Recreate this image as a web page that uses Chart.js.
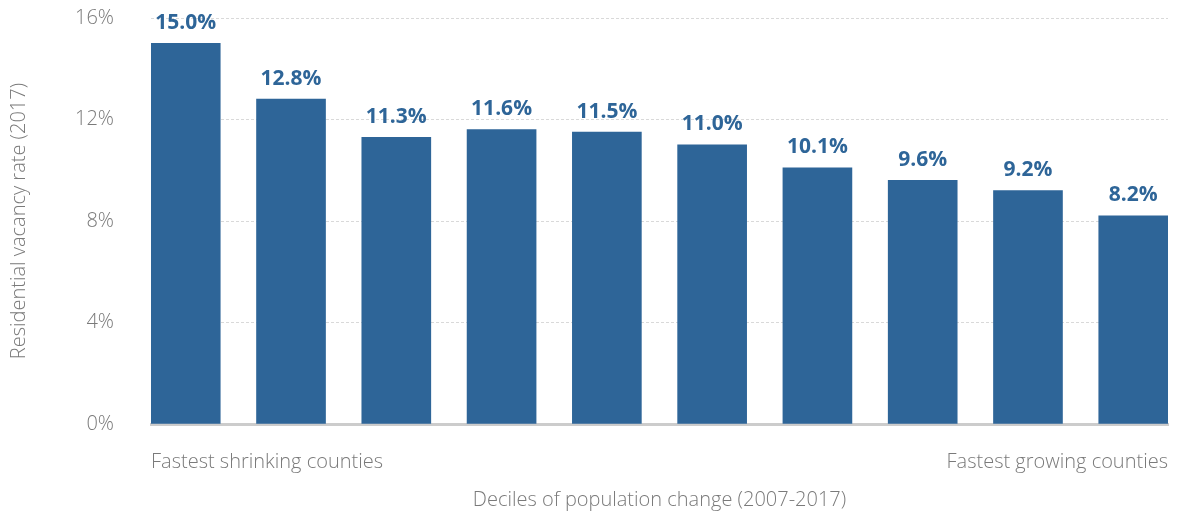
<!DOCTYPE html>
<html>
<head>
<meta charset="utf-8">
<script src="https://cdn.jsdelivr.net/npm/chart.js@4"></script>
<style>
  html, body { margin: 0; padding: 0; background: #fff; overflow: hidden; }
  #wrap { width: 1182px; height: 514px; }
</style>
</head>
<body>
<div id="wrap"><canvas id="vacancy"></canvas></div>
<script>
// deciles, shrinking -> growing
const deciles = ['1', '2', '3', '4', '5', '6', '7', '8', '9', '10'];
const vacancyRates = [15.0, 12.8, 11.3, 11.6, 11.5, 11.0, 10.1, 9.6, 9.2, 8.2];
const edgeLabels = ['Fastest shrinking counties', 'Fastest growing counties'];
const yTitle = 'Residential vacancy rate (2017)';
const xTitle = 'Deciles of population change (2007-2017)';

const barColor = '#2e6598';
const greyText = '#7a7a7a';
const fontFamily = '"Open Sans", Lato, sans-serif';

const xMin = -0.33;
const xMax = deciles.length - 1 + 0.33;

const barLabels = {
    id: 'barLabels',
    afterDatasetsDraw (chart) {
        const ctx = chart.ctx;
        const meta = chart.getDatasetMeta(0);
        ctx.save();
        ctx.font = `bold 21px ${fontFamily}`;
        ctx.fillStyle = barColor;
        ctx.textAlign = 'center';
        ctx.textBaseline = 'bottom';
        meta.data.forEach((bar, i) => {
            ctx.fillText(vacancyRates[i].toFixed(1) + '%', bar.x, bar.y - 10);
        });
        ctx.restore();
    }
};

new Chart(
    document.getElementById('vacancy'),
    {
        type: 'bar',
        data: {
            datasets: [
                {
                    data: vacancyRates.map((v, i) => ({ x: i, y: v })),
                    backgroundColor: barColor,
                    barThickness: 69
                }
            ]
        },
        plugins: [barLabels],
        options: {
            responsive: true,
            maintainAspectRatio: false,
            animation: false,
            layout: {
                padding: { top: 18, right: 14, left: 0, bottom: 0 }
            },
            plugins: {
                legend: { display: false },
                tooltip: { enabled: false }
            },
            scales: {
                x: {
                    type: 'linear',
                    offset: false,
                    min: xMin,
                    max: xMax,
                    afterBuildTicks: (scale) => {
                        scale.ticks = [{ value: xMin }, { value: xMax }];
                    },
                    afterFit: (scale) => {
                        scale.height = 90;
                        scale.paddingLeft = 0;
                        scale.paddingRight = 0;
                    },
                    ticks: {
                        autoSkip: false,
                        maxRotation: 0,
                        align: 'inner',
                        padding: 26,
                        color: greyText,
                        font: { family: fontFamily, size: 20, weight: '300' },
                        callback: (value, index) => edgeLabels[index]
                    },
                    grid: { display: false, drawTicks: false },
                    border: { display: true, color: '#cccccc', width: 3 },
                    title: {
                        display: true,
                        text: xTitle,
                        color: greyText,
                        font: { family: fontFamily, size: 20, weight: '300' },
                        padding: { top: 0, bottom: 2 }
                    }
                },
                y: {
                    min: 0,
                    max: 16,
                    afterFit: (scale) => {
                        scale.width = 151;
                        scale.paddingTop = 0;
                        scale.paddingBottom = 0;
                    },
                    ticks: {
                        stepSize: 4,
                        padding: 37,
                        color: greyText,
                        font: { family: fontFamily, size: 20, weight: '300' },
                        callback: (value) => value + '%'
                    },
                    grid: {
                        drawTicks: false,
                        color: (c) => c.tick.value === 0 ? 'rgba(0,0,0,0)' : '#d9d9d9',
                        lineWidth: 1
                    },
                    border: { display: false, dash: [3, 2] },
                    title: {
                        display: true,
                        text: yTitle,
                        color: greyText,
                        font: { family: fontFamily, size: 20, weight: '300' },
                        padding: { top: 7, bottom: 0 }
                    }
                }
            }
        }
    }
);
</script>
</body>
</html>
